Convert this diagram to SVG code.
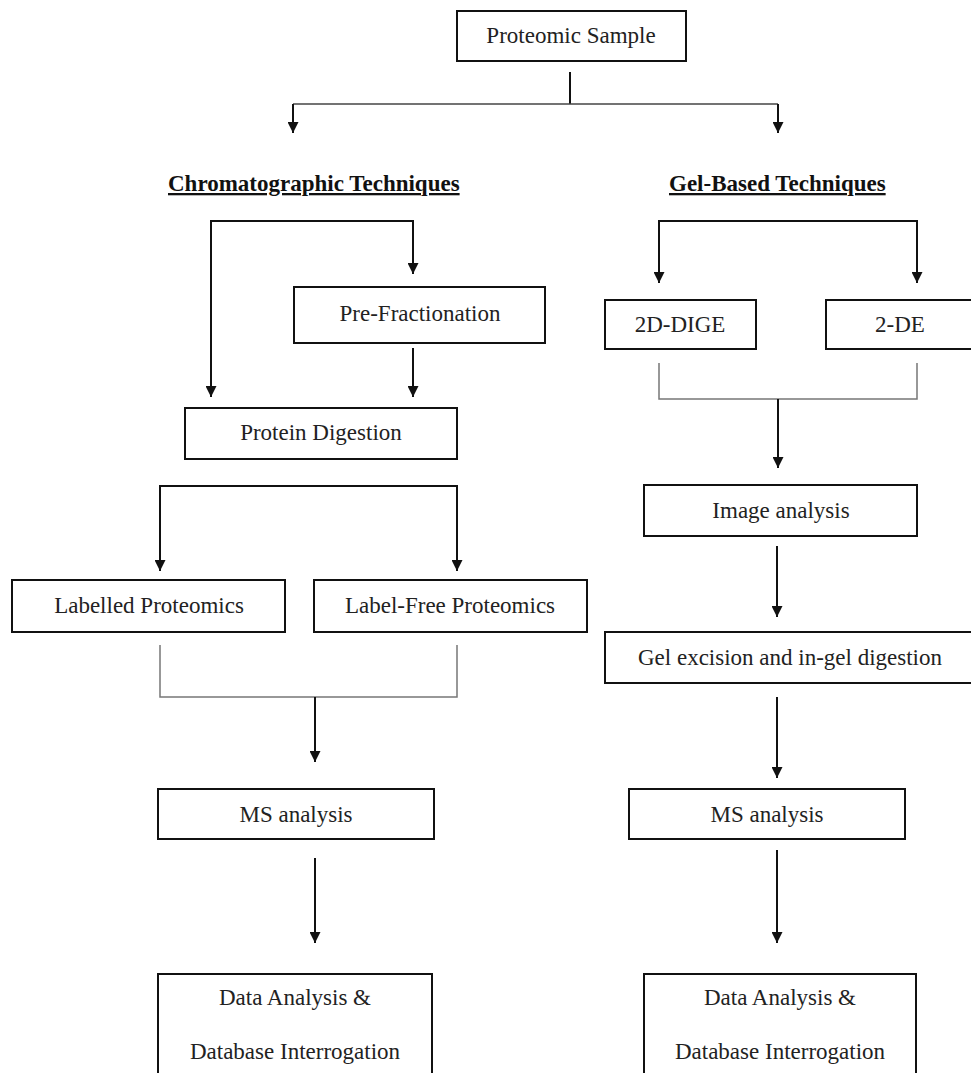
<svg xmlns="http://www.w3.org/2000/svg" width="971" height="1073" viewBox="0 0 971 1073">
<style>
.box{fill:#fff;stroke:#111;stroke-width:2}
.t{font-family:"Liberation Serif","Times New Roman",serif;font-size:23px;fill:#222;text-anchor:middle}
.h{font-family:"Liberation Serif","Times New Roman",serif;font-size:23px;font-weight:bold;fill:#111;text-decoration:underline}
.c{fill:none;stroke:#111;stroke-width:2}
.d{fill:none;stroke:#444;stroke-width:1.6}
.g{fill:none;stroke:#777;stroke-width:1.5}
</style>
<defs>
<marker id="ah" viewBox="0 0 10 10" refX="10" refY="5" markerWidth="13" markerHeight="11" markerUnits="userSpaceOnUse" orient="auto">
<path d="M0,0 L10,5 L0,10 z" fill="#111"/>
</marker>
</defs>
<rect width="971" height="1073" fill="#fff"/>
<g id="connectors">
<path class="c" d="M570,72 V104"/>
<path class="d" d="M293,104 H778"/>
<path class="c" d="M293,104 V133" marker-end="url(#ah)"/>
<path class="c" d="M778,104 V133" marker-end="url(#ah)"/>
<path class="c" d="M211,397 V221 H413 V274" marker-end="url(#ah)"/>
<path class="c" d="M211,380 V397" marker-end="url(#ah)"/>
<path class="c" d="M413,348 V397" marker-end="url(#ah)"/>
<path class="c" d="M160,571 V486 H457 V571" marker-end="url(#ah)"/>
<path class="c" d="M160,555 V571" marker-end="url(#ah)"/>
<path class="g" d="M160,645 V697 H457 V645"/>
<path class="c" d="M315,697 V762" marker-end="url(#ah)"/>
<path class="c" d="M315,858 V943" marker-end="url(#ah)"/>
<path class="c" d="M659,283 V221 H917 V283" marker-end="url(#ah)"/>
<path class="c" d="M659,270 V283" marker-end="url(#ah)"/>
<path class="g" d="M659,363 V399 H917 V363"/>
<path class="c" d="M778,399 V468" marker-end="url(#ah)"/>
<path class="c" d="M777,546 V617" marker-end="url(#ah)"/>
<path class="c" d="M777,697 V778" marker-end="url(#ah)"/>
<path class="c" d="M777,850 V943" marker-end="url(#ah)"/>
</g>
<g id="proteomic-sample"><rect class="box" x="457" y="11" width="229" height="50"/><text class="t" x="571" y="43">Proteomic Sample</text></g>
<g id="chromatographic"><text class="h" x="168" y="191">Chromatographic Techniques</text></g>
<g id="gel-based"><text class="h" x="669" y="191">Gel-Based Techniques</text></g>
<g id="pre-fractionation"><rect class="box" x="294" y="287" width="251" height="56"/><text class="t" x="420" y="321">Pre-Fractionation</text></g>
<g id="protein-digestion"><rect class="box" x="185" y="408" width="272" height="51"/><text class="t" x="321" y="440">Protein Digestion</text></g>
<g id="dige"><rect class="box" x="605" y="300" width="151" height="49"/><text class="t" x="680" y="332">2D-DIGE</text></g>
<g id="two-de"><rect class="box" x="826" y="300" width="150" height="49"/><text class="t" x="900" y="332">2-DE</text></g>
<g id="image-analysis"><rect class="box" x="644" y="485" width="273" height="51"/><text class="t" x="781" y="518">Image analysis</text></g>
<g id="gel-excision"><rect class="box" x="605" y="632" width="370" height="51"/><text class="t" x="790" y="665">Gel excision and in-gel digestion</text></g>
<g id="labelled"><rect class="box" x="12" y="580" width="273" height="52"/><text class="t" x="149" y="613">Labelled Proteomics</text></g>
<g id="label-free"><rect class="box" x="314" y="580" width="273" height="52"/><text class="t" x="450" y="613">Label-Free Proteomics</text></g>
<g id="ms-left"><rect class="box" x="158" y="789" width="276" height="50"/><text class="t" x="296" y="822">MS analysis</text></g>
<g id="ms-right"><rect class="box" x="629" y="789" width="276" height="50"/><text class="t" x="767" y="822">MS analysis</text></g>
<g id="data-left"><rect class="box" x="158" y="974" width="274" height="110"/><text class="t" x="295" y="1005">Data Analysis &amp;</text><text class="t" x="295" y="1059">Database Interrogation</text></g>
<g id="data-right"><rect class="box" x="644" y="974" width="272" height="110"/><text class="t" x="780" y="1005">Data Analysis &amp;</text><text class="t" x="780" y="1059">Database Interrogation</text></g>
</svg>
